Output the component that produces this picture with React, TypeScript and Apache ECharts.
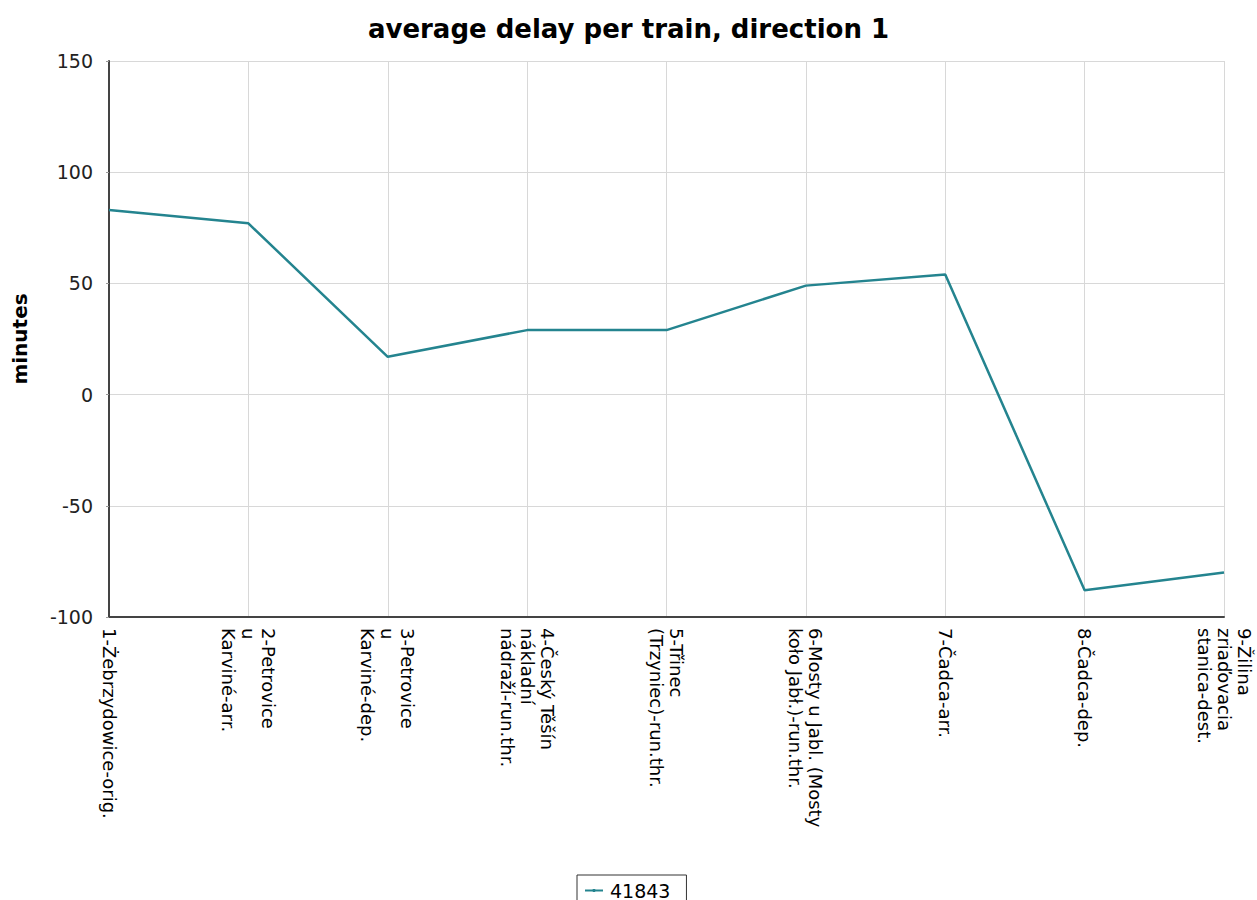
import React, { useEffect, useRef } from "react";
import * as echarts from "echarts";

const title = "average delay per train, direction 1";
const yAxisName = "minutes";
const seriesName = "41843";
const categories = [
  "1-Żebrzydowice-orig.",
  "2-Petrovice\nu\nKarviné-arr.",
  "3-Petrovice\nu\nKarviné-dep.",
  "4-Český Těšín\nnákladní\nnádraží-run.thr.",
  "5-Třinec\n(Trzyniec)-run.thr.",
  "6-Mosty u Jabl. (Mosty\nkoło Jabł.)-run.thr.",
  "7-Čadca-arr.",
  "8-Čadca-dep.",
  "9-Žilina\nzriaďovacia\nstanica-dest.",
];
const delays = [83, 77, 17, 29, 29, 49, 54, -88, -80];
const yMin = -100;
const yMax = 150;
const yStep = 50;

const FONT = "DejaVu Sans";

export default function App() {
  const ref = useRef<HTMLDivElement>(null);
  useEffect(() => {
    document.body.style.margin = "0";
    const chart = echarts.init(ref.current!, null, { renderer: "svg" });
    chart.setOption({
      animation: false,
      backgroundColor: "#ffffff",
      title: {
        text: title,
        left: "center",
        top: 11,
        textStyle: { fontFamily: FONT, fontSize: 26, fontWeight: "bold", color: "#000" },
      },
      grid: { left: 109, right: 33, top: 61, bottom: 283, containLabel: false },
      legend: {
        data: [seriesName],
        top: 875,
        left: 577,
        borderColor: "#333",
        borderWidth: 1,
        padding: [6, 16, 8, 7],
        itemWidth: 18,
        itemHeight: 4,
        itemGap: 6,
        textStyle: { fontFamily: FONT, fontSize: 19, color: "#000", padding: [0, 0, 0, 2] },
      },
      xAxis: {
        type: "category",
        data: categories,
        boundaryGap: false,
        axisLine: { onZero: false, lineStyle: { color: "#444", width: 2 } },
        axisTick: { show: false },
        splitLine: { show: true, lineStyle: { color: "#d8d8d8", width: 1 } },
        axisLabel: {
          rotate: -90,
          interval: 0,
          margin: 11,
          fontFamily: FONT,
          fontSize: 18,
          lineHeight: 20,
          color: "#000",
        },
      },
      yAxis: {
        type: "value",
        min: yMin,
        max: yMax,
        interval: yStep,
        name: yAxisName,
        nameLocation: "middle",
        nameGap: 79,
        nameTextStyle: { fontFamily: FONT, fontSize: 20, fontWeight: "bold", color: "#000" },
        axisLine: { show: true, lineStyle: { color: "#444", width: 2 } },
        axisTick: { show: true, length: 3, lineStyle: { color: "#999" } },
        splitLine: { show: true, lineStyle: { color: "#d8d8d8", width: 1 } },
        axisLabel: { fontFamily: FONT, fontSize: 19, color: "#222", margin: 16 },
      },
      series: [
        {
          name: seriesName,
          type: "line",
          data: delays,
          symbol: "none",
          lineStyle: { color: "#24848f", width: 2.5 },
          itemStyle: { color: "#24848f" },
        },
      ],
    });
    return () => chart.dispose();
  }, []);
  return <div ref={ref} style={{ width: 1257, height: 900 }} />;
}
